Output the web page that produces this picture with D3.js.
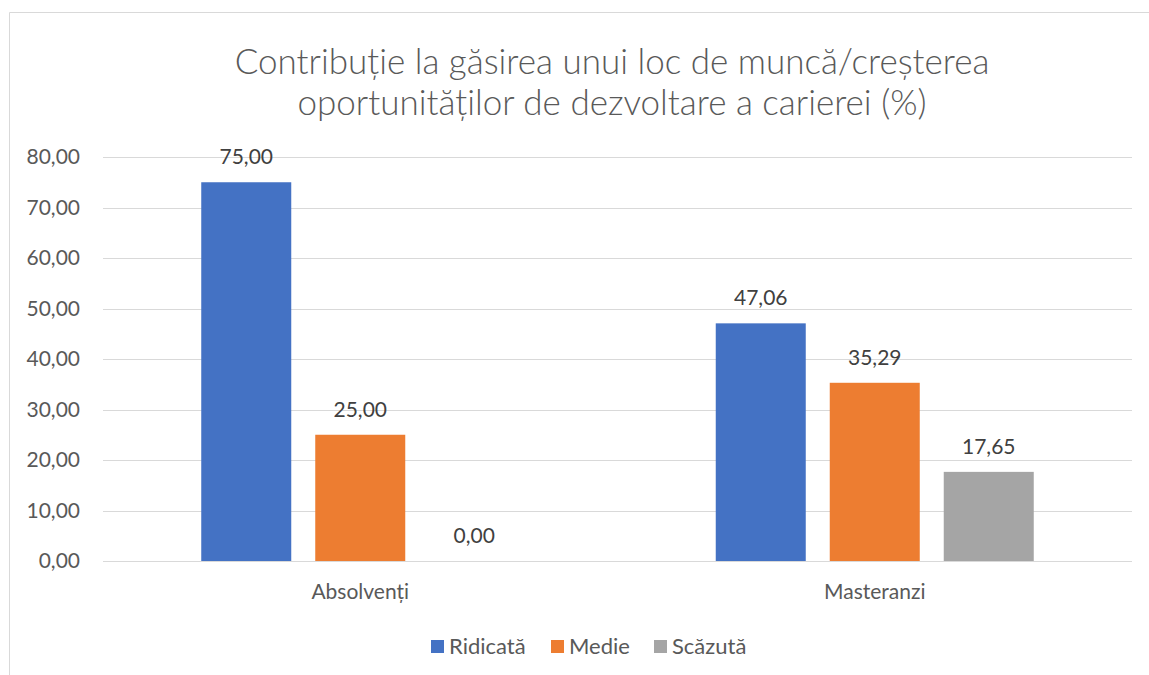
<!DOCTYPE html>
<html><head><meta charset="utf-8">
<script src="https://cdn.jsdelivr.net/npm/d3@7/dist/d3.min.js"></script>
<style>body{margin:0;background:#fff;} svg{display:block;font-family:Lato, "Open Sans", sans-serif;}</style>
</head><body>
<svg id="c" width="1149" height="675"></svg>
<script>
const categories = ["Absolvenți", "Masteranzi"];
const seriesNames = ["Ridicată", "Medie", "Scăzută"];
const ridicata = [75.00, 47.06];
const medie = [25.00, 35.29];
const scazuta = [0.00, 17.65];
const seriesColors = ["#4472C4", "#ED7D31", "#A5A5A5"];
const yTicks = [0, 10, 20, 30, 40, 50, 60, 70, 80];
const titleLines = ["Contribuție la găsirea unui loc de muncă/creșterea", "oportunităților de dezvoltare a carierei (%)"];

(function(){
const seriesValues = [ridicata, medie, scazuta];
const svg = d3.select("#c");
const fmt = v => v.toFixed(2).replace(".", ",");

svg.append("path").attr("d", "M9.5,675 L9.5,12.5 L1149,12.5").attr("fill", "none").attr("stroke", "#D9D9D9").attr("stroke-width", 1);

const pL = 103, pR = 1132, pT = 157, pB = 561;
const x0 = d3.scaleBand().domain(categories).range([pL, pR]);
const y = d3.scaleLinear().domain([0, 80]).range([pB, pT]);

svg.append("g").selectAll("text").data(titleLines).join("text")
  .attr("x", 612).attr("y", (d, i) => 74 + i * 41)
  .attr("text-anchor", "middle").attr("font-size", 35).attr("font-weight", 300).attr("fill", "#595959").text(d => d);

svg.append("g").selectAll("line").data(yTicks).join("line")
  .attr("x1", pL).attr("x2", pR).attr("y1", d => Math.round(y(d)) + 0.5).attr("y2", d => Math.round(y(d)) + 0.5)
  .attr("stroke", "#D9D9D9").attr("stroke-width", 1);

const yAxis = d3.axisLeft(y).tickValues(yTicks).tickFormat(fmt).tickSize(0).tickPadding(0);
const ya = svg.append("g").attr("transform", `translate(80,0)`).call(yAxis);
ya.select(".domain").remove();
ya.selectAll("text").attr("font-size", 21).attr("fill", "#595959").attr("font-family", "Lato, sans-serif");

const groupW = 318;
const xb = d3.scaleBand().domain(d3.range(3)).range([0, groupW]).paddingInner(24 / 114);

const groups = svg.append("g").selectAll("g").data(categories).join("g")
  .attr("transform", c => `translate(${x0(c) + x0.bandwidth() / 2 - groupW / 2},0)`);

groups.selectAll("rect").data((c, ci) => seriesValues.map((s, si) => ({si, v: s[ci]}))).join("rect")
  .attr("x", d => xb(d.si)).attr("width", xb.bandwidth())
  .attr("y", d => y(d.v)).attr("height", d => y(0) - y(d.v))
  .attr("fill", d => seriesColors[d.si]);

groups.selectAll("text.lbl").data((c, ci) => seriesValues.map((s, si) => ({si, v: s[ci]}))).join("text")
  .attr("class", "lbl")
  .attr("x", d => xb(d.si) + xb.bandwidth() / 2).attr("y", d => y(d.v) - 18)
  .attr("text-anchor", "middle").attr("font-size", 21).attr("fill", "#404040").text(d => fmt(d.v));

svg.append("line").attr("x1", pL).attr("x2", pR).attr("y1", Math.round(y(0)) + 0.5).attr("y2", Math.round(y(0)) + 0.5)
  .attr("stroke", "#D9D9D9");

const xa = svg.append("g").attr("transform", `translate(0,${pB})`).call(d3.axisBottom(x0).tickSize(0).tickPadding(0));
xa.select(".domain").remove();
xa.selectAll("text").attr("font-size", 21).attr("fill", "#595959").attr("font-family", "Lato, sans-serif").attr("dy", 0).attr("y", 38);

const legendX = [431, 551, 654];
const lg = svg.append("g").selectAll("g").data(seriesNames).join("g")
  .attr("transform", (d, i) => `translate(${legendX[i]},640)`);
lg.append("rect").attr("width", 13).attr("height", 13).attr("fill", (d, i) => seriesColors[i]);
lg.append("text").attr("x", 18).attr("y", 13.5).attr("font-size", 22).attr("fill", "#595959").text(d => d);
})();
</script>
</body></html>
